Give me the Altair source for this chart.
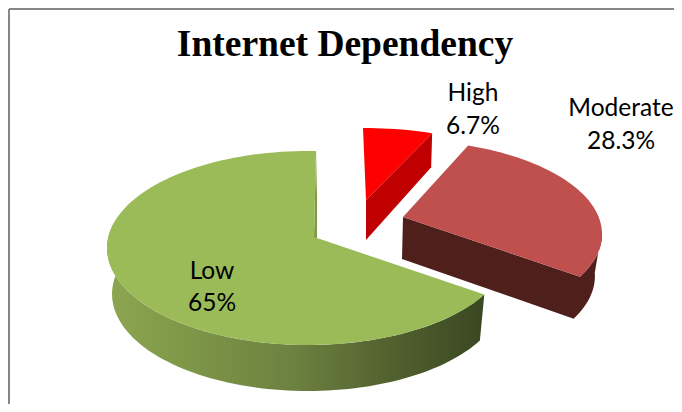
import math
import altair as alt
import pandas as pd

# ---- values
categories = ["High", "Moderate", "Low"]
shares = [6.7, 28.3, 65.0]
share_labels = ["6.7%", "28.3%", "65%"]

face_colors = ["#FF0000", "#C0504D", "#9BBB59"]
wall_colors = ["#C00000", "#4F1F1C", "#7E9A45"]

# ---- 3D look: one tilted ellipse per exploded slice (page pixels)
centre_x = [363, 400, 308]
centre_y = [214, 234, 248]
semi_a = [202, 202, 201]
semi_b = [86, 94, 97]
apex_x = [366, 403, 314]
apex_y = [200, 217, 237]
depth = [40, 42, 46]
narrowing = [0.99, 0.965, 0.975]
# perspective nudges of each slice's start and end angle, degrees
nudge_start = [0.0, -4.4, -7.3]
nudge_end = [-4.1, -9.0, 2.3]

rows = []


def add(part, pts):
    for i, (x, y) in enumerate(pts):
        rows.append({"part": part, "i": i, "x": x, "y": y})


def arc(k, t0, t1, drop=0.0, shrink=1.0):
    n = max(2, int(abs(t1 - t0) / 2) + 1)
    out = []
    for j in range(n + 1):
        t = math.radians(t0 + (t1 - t0) * j / n)
        out.append((centre_x[k] + semi_a[k] * shrink * math.sin(t),
                    centre_y[k] - semi_b[k] * math.cos(t) + drop))
    return out


total = sum(shares)
cum = 0.0
spans = []
for k, s in enumerate(shares):
    a0 = cum / total * 360 + nudge_start[k]
    cum += s
    a1 = cum / total * 360 + nudge_end[k]
    spans.append((a0, a1))
    add(f"face{k}", [(apex_x[k], apex_y[k])] + arc(k, a0, a1))

# High: cut wall along its right radius
e = arc(0, spans[0][1], spans[0][1])[0]
add("wall0", [(apex_x[0], apex_y[0]), e, (e[0] - 1, e[1] + 34),
              (apex_x[0], apex_y[0] + depth[0])])

# Moderate: cut wall along its end radius plus its rim
a0, a1 = spans[1]
top = arc(1, 88, a1)
bot = arc(1, 88, a1, depth[1], narrowing[1])
add("wall1", [(apex_x[1], apex_y[1])] + top[::-1] + [top[0]] + bot
    + [(apex_x[1] - 1, apex_y[1] + depth[1])])

# Low: outer rim, with thin inner wall by the notch
a0, a1 = spans[2]
top = arc(2, a0, 285)
bot = arc(2, a0, 285, depth[2], narrowing[2])
add("rim2", top + bot[::-1])
p = arc(2, a1, a1)[0]
add("wall2", [p, (apex_x[2], apex_y[2]), (apex_x[2] + 3, apex_y[2] + depth[2]),
              (apex_x[2] + 3, p[1] + depth[2])])

df = pd.DataFrame(rows)

X = alt.X("x:Q", scale=alt.Scale(domain=[8, 674], nice=False, zero=False), axis=None)
Y = alt.Y("y:Q", scale=alt.Scale(domain=[404, 8], nice=False, zero=False), axis=None)


def poly(part, fill):
    return (
        alt.Chart(df[df.part == part].drop(columns="part"))
        .mark_line(fill=fill, stroke="transparent", strokeWidth=0, interpolate="linear")
        .encode(x=X, y=Y, order="i:Q")
    )


rim_gradient = alt.Gradient(
    gradient="linear", x1=0, x2=1, y1=0, y2=0,
    stops=[
        alt.GradientStop(color="#8CA650", offset=0),
        alt.GradientStop(color="#7F9848", offset=0.2),
        alt.GradientStop(color="#6C8040", offset=0.5),
        alt.GradientStop(color="#4F5E2D", offset=0.78),
        alt.GradientStop(color="#3A4822", offset=1),
    ],
)

frame_h = pd.DataFrame({"x": [9], "x2": [674], "y": [9]})
frame_v = pd.DataFrame({"x": [9], "y": [9], "y2": [404]})
frame = [
    alt.Chart(frame_h).mark_rule(color="#868686", strokeWidth=2).encode(x=X, x2="x2:Q", y=Y),
    alt.Chart(frame_v).mark_rule(color="#868686", strokeWidth=2).encode(x=X, y=Y, y2="y2:Q"),
]

title_df = pd.DataFrame({"x": [345], "y": [45], "t": ["Internet Dependency"]})
title = alt.Chart(title_df).mark_text(
    font="Liberation Serif", fontWeight="bold", fontSize=37.5, color="#000000",
    align="center", baseline="middle",
).encode(x=X, y=Y, text="t:N")

label_x = [473, 621, 212]
label_name_y = [94, 109, 272]
label_value_y = [127, 142, 304]
lab_rows = []
for k in range(3):
    lab_rows.append({"x": label_x[k], "y": label_name_y[k], "t": categories[k]})
    lab_rows.append({"x": label_x[k], "y": label_value_y[k], "t": share_labels[k]})
labels = alt.Chart(pd.DataFrame(lab_rows)).mark_text(
    font="Lato", fontSize=24.5, color="#000000", align="center", baseline="middle",
).encode(x=X, y=Y, text="t:N")

chart = alt.layer(
    *frame,
    poly("wall0", wall_colors[0]),
    poly("face0", face_colors[0]),
    poly("wall1", wall_colors[1]),
    poly("face1", face_colors[1]),
    poly("wall2", wall_colors[2]),
    poly("rim2", rim_gradient),
    poly("face2", face_colors[2]),
    title,
    labels,
).properties(
    width=666, height=396, padding=0,
    autosize=alt.AutoSizeParams(type="none"),
    background="#FFFFFF",
).configure_view(stroke=None)

chart.save("out.html", embed_options={"renderer": "svg", "actions": False})
